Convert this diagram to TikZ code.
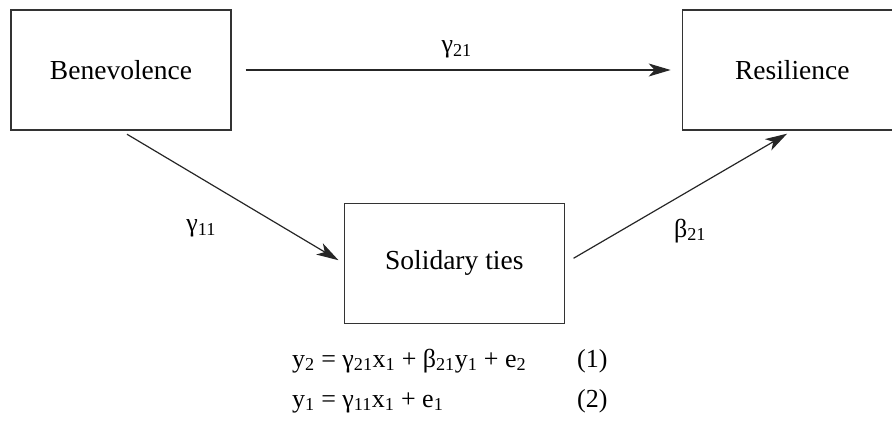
\documentclass[tikz,border=0pt]{standalone}
\usepackage{fontspec}
\setmainfont{Liberation Serif}
\usetikzlibrary{arrows.meta,positioning}

\begin{document}
\begin{tikzpicture}[
  x=1pt, y=-1pt,
  font=\fontsize{26}{30}\selectfont,
  latent/.style={draw=black!80, line width=1.3pt, minimum width=220pt, minimum height=120pt, inner sep=0pt, font=\fontsize{27.5}{32}\selectfont},
  link/.style={-{Stealth[length=22pt, width=13pt, inset=6pt]}, line width=1.2pt, draw=black!85},
  coef/.style={inner sep=1pt},
  eqn/.style={inner sep=0pt, anchor=base west}
]
\useasboundingbox (0,0) rectangle (892,422);
\node[latent] (benev) at (121,70) {Benevolence};
\node[latent, right=450pt of benev] (resil) {Resilience};
\node[latent, below right=72pt and 112pt of benev] (ties) {Solidary ties};
\draw[link, shorten <=14pt, shorten >=11pt] (benev) -- node[coef, above=10pt] {γ\textsubscript{21}} (resil);
\draw[link, shorten <=7pt, shorten >=6pt] (benev.south) -- node[coef, pos=0.36, below=40pt] {γ\textsubscript{11}} (ties.west);
\draw[link, shorten <=10pt, shorten >=6pt] (ties.east) -- node[coef, pos=0.55, below=27pt] {β\textsubscript{21}} (resil.south);
% structural equations
\node[eqn] (eqone) at (292,367) {y\textsubscript{2} = γ\textsubscript{21}x\textsubscript{1} + β\textsubscript{21}y\textsubscript{1} + e\textsubscript{2}};
\node[eqn] (numone) at (577,367) {(1)};
\node[eqn] (eqtwo) at (292,407) {y\textsubscript{1} = γ\textsubscript{11}x\textsubscript{1} + e\textsubscript{1}};
\node[eqn] (numtwo) at (577,407) {(2)};
\end{tikzpicture}
\end{document}
